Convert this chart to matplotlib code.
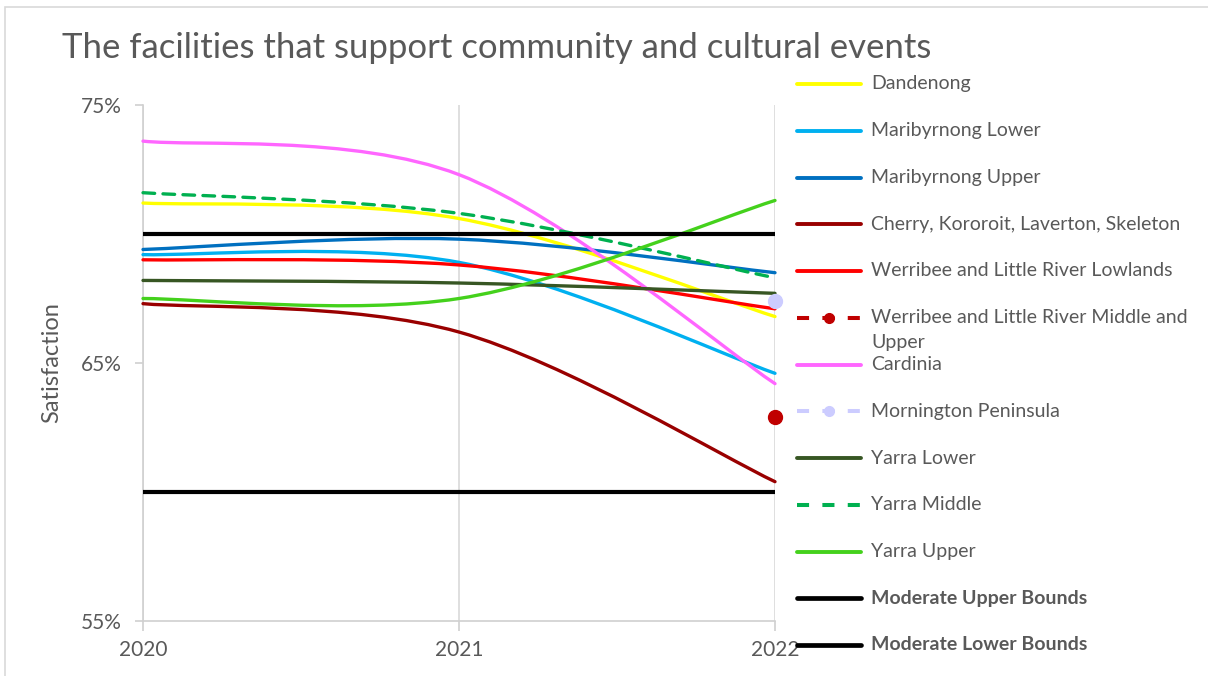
import matplotlib
matplotlib.use("Agg")
import matplotlib.pyplot as plt
from matplotlib.path import Path
from matplotlib.patches import PathPatch, Rectangle
from matplotlib.lines import Line2D
import numpy as np

years = [2020, 2021, 2022]
dandenong = [71.2, 70.6, 66.8]
maribyrnong_lower = [69.2, 68.9, 64.6]
maribyrnong_upper = [69.4, 69.8, 68.5]
cherry = [67.3, 66.2, 60.4]
werribee_lowlands = [69.0, 68.8, 67.1]
werribee_middle_upper = [None, None, 62.9]
cardinia = [73.6, 72.3, 64.2]
mornington = [None, None, 67.4]
yarra_lower = [68.2, 68.1, 67.7]
yarra_middle = [71.6, 70.8, 68.3]
yarra_upper = [67.5, 67.5, 71.3]
upper_bound = [70.0, 70.0, 70.0]
lower_bound = [60.0, 60.0, 60.0]

series = [
    ("Dandenong", dandenong, "#FFFF00", "-", None, 2.4, False),
    ("Maribyrnong Lower", maribyrnong_lower, "#00B0F0", "-", None, 2.4, False),
    ("Maribyrnong Upper", maribyrnong_upper, "#0070C0", "-", None, 2.4, False),
    ("Cherry, Kororoit, Laverton, Skeleton", cherry, "#990000", "-", None, 2.4, False),
    ("Werribee and Little River Lowlands", werribee_lowlands, "#FF0000", "-", None, 2.4, False),
    ("Werribee and Little River Middle and\nUpper", werribee_middle_upper, "#C00000", "--", "o", 2.4, False),
    ("Cardinia", cardinia, "#FF66FF", "-", None, 2.4, False),
    ("Mornington Peninsula", mornington, "#CCCCFF", "--", "o", 2.4, False),
    ("Yarra Lower", yarra_lower, "#375623", "-", None, 2.4, False),
    ("Yarra Middle", yarra_middle, "#00B050", "--", None, 2.4, False),
    ("Yarra Upper", yarra_upper, "#44D11C", "-", None, 2.4, False),
    ("Moderate Upper Bounds", upper_bound, "#000000", "-", None, 3.0, True),
    ("Moderate Lower Bounds", lower_bound, "#000000", "-", None, 3.0, True),
]

W, H = 1208, 676
fig = plt.figure(figsize=(W / 100, H / 100), dpi=100)
plt.rcParams['font.family'] = ['Lato', 'DejaVu Sans']

# chart border
fig.patches.append(Rectangle((5 / W, -0.01), 1.05, 1 - 7 / H + 0.01, transform=fig.transFigure,
                             fill=False, edgecolor="#D9D9D9", linewidth=1.2))

ax = fig.add_axes([143 / W, 1 - 621 / H, (775 - 143) / W, (621 - 105) / H])
ax.set_xlim(2020, 2022)
ax.set_ylim(55, 75)
for s in ["top", "right"]:
    ax.spines[s].set_visible(False)
ax.spines["left"].set_color("#D0D0D0")
ax.spines["bottom"].set_color("#D0D0D0")
ax.spines["left"].set_linewidth(1.2)
ax.spines["bottom"].set_linewidth(1.2)
ax.set_xticks(years)
ax.set_xticklabels([str(y) for y in years])
ax.set_yticks([55, 65, 75])
ax.set_yticklabels(["55%", "65%", "75%"])
ax.tick_params(axis="y", direction="out", length=6, color="#D0D0D0", width=1.2,
               labelsize=15, labelcolor="#595959", pad=9)
ax.tick_params(axis="x", direction="out", length=7, color="#D0D0D0", width=1.2,
               labelsize=15, labelcolor="#595959", pad=7)
ax.grid(axis="x", color="#D9D9D9", linewidth=1.2)
ax.set_axisbelow(True)
ax.set_ylabel("Satisfaction", fontsize=17, color="#595959", labelpad=14)


def smooth_path(xs, ys):
    pts = list(zip(xs, ys))
    n = len(pts)
    verts = [pts[0]]
    codes = [Path.MOVETO]
    for i in range(n - 1):
        p0 = pts[max(i - 1, 0)]
        p1 = pts[i]
        p2 = pts[i + 1]
        p3 = pts[min(i + 2, n - 1)]
        c1 = (p1[0] + (p2[0] - p0[0]) / 6, p1[1] + (p2[1] - p0[1]) / 6)
        c2 = (p2[0] - (p3[0] - p1[0]) / 6, p2[1] - (p3[1] - p1[1]) / 6)
        verts += [c1, c2, p2]
        codes += [Path.CURVE4] * 3
    return Path(verts, codes)


for name, vals, col, ls, mk, lw, bold in series:
    pts = [(x, v) for x, v in zip(years, vals) if v is not None]
    if len(pts) >= 2:
        xs, ys = zip(*pts)
        if bold:
            ax.plot(xs, ys, color=col, lw=lw, solid_capstyle="round", zorder=3)
        else:
            patch = PathPatch(smooth_path(xs, ys), facecolor="none", edgecolor=col, lw=lw,
                              linestyle=(0, (3.5, 2.5)) if ls == "--" else "-",
                              capstyle="round", zorder=3, clip_on=False)
            ax.add_patch(patch)
    else:
        xs, ys = zip(*pts)
        ax.plot(xs, ys, linestyle="none", marker="o", markersize=10, color=col,
                markeredgecolor=col, zorder=4, clip_on=False)

# title
fig.text(62 / W, 1 - 48 / H, "The facilities that support community and cultural events",
         fontsize=25, color="#595959", va="center", ha="left")

# legend (manual)
y0, dy = 84, 46.75
for i, (name, vals, col, ls, mk, lw, bold) in enumerate(series):
    yc = 1 - (y0 + i * dy) / H
    if ls == "--":
        line = Line2D([797 / W, 861 / W], [yc, yc], transform=fig.transFigure, color=col,
                      lw=lw + 0.5, linestyle=(0, (3.0, 3.3)), solid_capstyle="round")
    else:
        line = Line2D([797 / W, 861 / W], [yc, yc], transform=fig.transFigure, color=col,
                      lw=lw + 0.4, solid_capstyle="round")
    fig.lines.append(line)
    if mk:
        fig.lines.append(Line2D([829 / W], [yc], transform=fig.transFigure, color=col,
                                marker="o", markersize=7, linestyle="none"))
    lines = name.split("\n")
    for j, t in enumerate(lines):
        fig.text(871 / W, yc - j * 25 / H, t, fontsize=14, color="#595959",
                 va="center", ha="left", fontweight="bold" if bold else "normal")

fig.savefig("out.png", dpi=100)
